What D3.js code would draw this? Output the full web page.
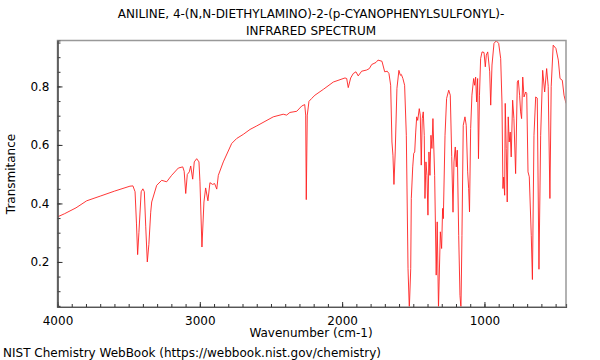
<!DOCTYPE html>
<html>
<head>
<meta charset="utf-8">
<script src="https://cdn.jsdelivr.net/npm/d3@7"></script>
<style>
  body { margin: 0; background: #fff; }
  text { font-family: "DejaVu Sans", sans-serif; fill: #000; }
</style>
</head>
<body>
<script>
// spectrum: wavenumber (cm-1) and transmittance
var wavenumbers = [4000, 3950, 3870, 3795, 3700, 3600, 3491, 3470, 3455, 3445, 3437, 3428, 3412, 3400, 3390, 3380, 3369, 3358, 3345, 3338,
  3303, 3268, 3233, 3198, 3151, 3120, 3110, 3099, 3088, 3074, 3064, 3050, 3039, 3022, 3006, 2999, 2985, 2971, 2959, 2943,
  2929, 2910, 2896, 2881, 2870, 2835, 2776, 2741, 2695, 2647, 2600, 2484, 2414, 2390, 2367, 2319, 2284, 2263, 2256, 2252,
  2245, 2233, 2214, 2191, 2132, 2062, 1980, 1968, 1957, 1940, 1922, 1903, 1887, 1863, 1828, 1809, 1792, 1762, 1748, 1734,
  1720, 1701, 1683, 1671, 1659, 1650, 1643, 1636, 1627, 1615, 1601, 1591, 1584, 1573, 1561, 1549, 1537, 1528, 1518, 1514,
  1504, 1497, 1490, 1483, 1476, 1469, 1458, 1451, 1444, 1437, 1430, 1423, 1418, 1411, 1404, 1397, 1390, 1383, 1376, 1369,
  1362, 1350, 1339, 1332, 1323, 1310, 1301, 1294, 1289, 1277, 1266, 1251, 1240, 1230, 1221, 1214, 1205, 1198, 1191, 1181,
  1172, 1165, 1158, 1149, 1137, 1128, 1118, 1111, 1105, 1097, 1088, 1076, 1069, 1062, 1055, 1048, 1042, 1035, 1027, 1017,
  1003, 994, 987, 977, 963, 956, 947, 933, 917, 900, 886, 877, 870, 865, 858, 854, 847, 840, 833, 826,
  819, 812, 802, 793, 781, 769, 762, 753, 746, 739, 731, 722, 710, 703, 694, 685, 671, 663, 652, 640,
  629, 617, 605, 591, 577, 563, 552, 540, 531, 517, 498, 481, 469, 453, 441, 427];
var transmittance = [0.354, 0.365, 0.385, 0.409, 0.425, 0.442, 0.459, 0.460, 0.440, 0.330, 0.225, 0.300, 0.440, 0.450, 0.440, 0.320, 0.200, 0.260, 0.370, 0.405,
  0.462, 0.479, 0.474, 0.496, 0.521, 0.525, 0.510, 0.434, 0.499, 0.508, 0.528, 0.483, 0.542, 0.553, 0.542, 0.474, 0.251, 0.405, 0.453, 0.409,
  0.471, 0.465, 0.468, 0.449, 0.496, 0.542, 0.605, 0.622, 0.636, 0.653, 0.665, 0.696, 0.705, 0.702, 0.711, 0.715, 0.733, 0.738, 0.702, 0.413,
  0.702, 0.749, 0.759, 0.770, 0.790, 0.815, 0.829, 0.827, 0.796, 0.829, 0.844, 0.850, 0.836, 0.852, 0.856, 0.861, 0.875, 0.882, 0.890, 0.888,
  0.886, 0.850, 0.852, 0.844, 0.804, 0.610, 0.565, 0.465, 0.576, 0.793, 0.855, 0.838, 0.841, 0.827, 0.804, 0.633, 0.177, 0.040, 0.177, 0.417,
  0.525, 0.571, 0.576, 0.644, 0.696, 0.684, 0.724, 0.702, 0.531, 0.690, 0.713, 0.633, 0.417, 0.542, 0.496, 0.360, 0.576, 0.496, 0.633, 0.588,
  0.690, 0.496, 0.155, 0.337, 0.040, 0.303, 0.246, 0.383, 0.348, 0.633, 0.759, 0.787, 0.770, 0.560, 0.370, 0.542, 0.593, 0.525, 0.582, 0.291,
  0.086, 0.040, 0.291, 0.667, 0.696, 0.667, 0.508, 0.451, 0.371, 0.656, 0.770, 0.827, 0.804, 0.832, 0.747, 0.827, 0.553, 0.770, 0.895, 0.918,
  0.916, 0.867, 0.907, 0.918, 0.850, 0.736, 0.873, 0.947, 0.956, 0.947, 0.895, 0.747, 0.451, 0.490, 0.428, 0.742, 0.588, 0.405, 0.696, 0.610,
  0.644, 0.559, 0.753, 0.690, 0.502, 0.815, 0.821, 0.770, 0.713, 0.690, 0.832, 0.764, 0.781, 0.776, 0.508, 0.491, 0.290, 0.140, 0.633, 0.764,
  0.760, 0.175, 0.633, 0.855, 0.781, 0.861, 0.800, 0.417, 0.800, 0.941, 0.930, 0.890, 0.827, 0.821, 0.770, 0.742];

var xMajor = [4000, 3000, 2000, 1000];
var yMajor = [0.2, 0.4, 0.6, 0.8];
var titleLines = ["ANILINE, 4-(N,N-DIETHYLAMINO)-2-(p-CYANOPHENYLSULFONYL)-", "INFRARED SPECTRUM"];

var width = 600,
    height = 360;
var plotLeft = 57.5, plotRight = 566, plotTop = 40.5, plotBottom = 307;

var svg = d3.select("body")
    .append("svg")
    .attr("width", width)
    .attr("height", height);

var x = d3.scaleLinear().domain([4000, 427]).range([plotLeft, plotRight]);
var y = d3.scaleLinear().domain([0.046, 0.957]).range([plotBottom, plotTop]);

//clip the trace to the frame
svg.append("clipPath").attr("id", "plot")
    .append("rect")
    .attr("x", plotLeft).attr("y", plotTop)
    .attr("width", plotRight - plotLeft).attr("height", plotBottom - plotTop);

var points = wavenumbers.map(function(w, i){ return [w, transmittance[i]]; });

var line = d3.line()
    .x(function(d){ return x(d[0]); })
    .y(function(d){ return y(d[1]); });

svg.append("path")
    .datum(points)
    .attr("clip-path", "url(#plot)")
    .attr("fill", "none")
    .attr("stroke", "#ff2020")
    .attr("stroke-width", 0.9)
    .attr("stroke-linejoin", "round")
    .attr("d", line);

//frame
svg.append("rect")
    .attr("x", plotLeft).attr("y", plotTop)
    .attr("width", plotRight - plotLeft).attr("height", plotBottom - plotTop)
    .attr("fill", "none")
    .attr("stroke", "#999")
    .attr("stroke-width", 1.5);

//inward ticks
var xAxis = d3.axisBottom(x)
    .tickValues(d3.range(4000, 427, -100))
    .tickSize(-3)
    .tickFormat("");
svg.append("g").attr("transform", "translate(0," + plotBottom + ")").call(xAxis);
var xAxisMajor = d3.axisBottom(x)
    .tickValues(xMajor)
    .tickSizeInner(-5)
    .tickSizeOuter(0)
    .tickPadding(9)
    .tickFormat(d3.format("d"));
svg.append("g").attr("transform", "translate(0," + plotBottom + ")").call(xAxisMajor);

var yAxis = d3.axisLeft(y)
    .tickValues(d3.range(0.05, 0.951, 0.05))
    .tickSize(-3)
    .tickFormat("");
svg.append("g").attr("transform", "translate(" + plotLeft + ",0)").call(yAxis);
var yAxisMajor = d3.axisLeft(y)
    .tickValues(yMajor)
    .tickSizeInner(-5)
    .tickSizeOuter(0)
    .tickPadding(8)
    .tickFormat(d3.format(".1f"));
svg.append("g").attr("transform", "translate(" + plotLeft + ",0)").call(yAxisMajor);

svg.selectAll(".domain").attr("stroke", "#555").attr("stroke-width", 1.2);
svg.selectAll(".tick line").attr("stroke", "#333");
svg.selectAll(".tick text").attr("font-size", 12).attr("font-family", "DejaVu Sans, sans-serif");

//titles
svg.selectAll(".title")
    .data(titleLines)
    .enter()
    .append("text")
    .attr("class", "title")
    .attr("x", 311)
    .attr("y", function(d, i){ return 18 + i * 17; })
    .attr("text-anchor", "middle")
    .attr("font-size", 12)
    .text(function(d){ return d; });

svg.append("text")
    .attr("x", 311).attr("y", 337)
    .attr("text-anchor", "middle")
    .attr("font-size", 12)
    .text("Wavenumber (cm-1)");

svg.append("text")
    .attr("transform", "translate(15,174) rotate(-90)")
    .attr("text-anchor", "middle")
    .attr("font-size", 12)
    .text("Transmitance");

svg.append("text")
    .attr("x", 3).attr("y", 357)
    .attr("font-size", 12)
    .text("NIST Chemistry WebBook (https://webbook.nist.gov/chemistry)");
</script>
</body>
</html>
